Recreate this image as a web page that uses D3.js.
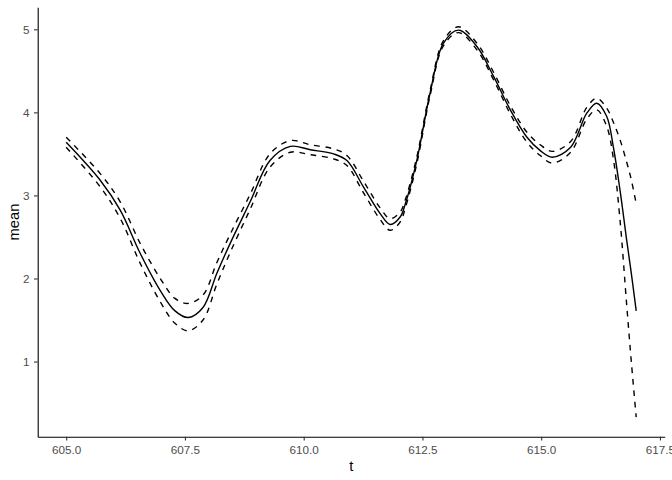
<!DOCTYPE html>
<html>
<head>
<meta charset="utf-8">
<script src="https://cdn.jsdelivr.net/npm/d3@7/dist/d3.min.js"></script>
<style>
  html, body { margin: 0; padding: 0; background: #fff; }
  svg { display: block; font-family: "Liberation Sans", Arial, Helvetica, sans-serif; }
</style>
</head>
<body>
<svg id="chart" width="672" height="480"></svg>
<script>
// ---- data ----
const tValues = [605.00, 605.72, 606.14, 606.56, 606.98, 607.29, 607.57, 607.88, 608.17, 608.45,
                 608.87, 609.29, 609.72, 610.14, 610.63, 610.91, 611.26, 611.61, 611.82, 612.03,
                 612.14, 612.38, 612.66, 612.94, 613.26, 613.65, 614.00, 614.35, 614.70, 614.98,
                 615.23, 615.62, 615.96, 616.17, 616.38, 616.52, 616.66, 616.80, 616.90, 617.00];
const meanValues = [3.64, 3.18, 2.82, 2.30, 1.855, 1.61, 1.53, 1.65, 2.06, 2.42,
                    2.92, 3.42, 3.59, 3.55, 3.50, 3.42, 3.10, 2.78, 2.65, 2.74,
                    2.90, 3.42, 4.23, 4.83, 4.99, 4.79, 4.43, 4.03, 3.70, 3.54,
                    3.46, 3.58, 3.99, 4.11, 3.95, 3.58, 3.06, 2.46, 2.05, 1.61];
const lowerValues = [3.58, 3.10, 2.72, 2.18, 1.72, 1.46, 1.37, 1.50, 1.93, 2.31,
                     2.83, 3.34, 3.52, 3.49, 3.44, 3.36, 3.03, 2.71, 2.58, 2.68,
                     2.85, 3.38, 4.20, 4.80, 4.96, 4.75, 4.39, 3.98, 3.64, 3.48,
                     3.39, 3.52, 3.92, 4.03, 3.83, 3.44, 2.70, 1.68, 0.98, 0.33];
const upperValues = [3.70, 3.26, 2.92, 2.42, 2.00, 1.76, 1.70, 1.80, 2.19, 2.53,
                     3.01, 3.50, 3.66, 3.61, 3.56, 3.48, 3.17, 2.85, 2.72, 2.80,
                     2.95, 3.46, 4.26, 4.86, 5.03, 4.83, 4.48, 4.08, 3.76, 3.61,
                     3.53, 3.65, 4.06, 4.17, 4.05, 3.88, 3.67, 3.40, 3.18, 2.90];
const xTickValues = [605.0, 607.5, 610.0, 612.5, 615.0, 617.5];
const yTickValues = [1, 2, 3, 4, 5];
const xTitle = "t";
const yTitle = "mean";

// ---- layout ----
const W = 672, H = 480;
const panel = { left: 37.7, right: 664.7, top: 7.3, bottom: 436.7 };

const svg = d3.select("#chart");

// ggplot-like 5% expansion
const xExt = d3.extent(tValues);
const xPad = (xExt[1] - xExt[0]) * 0.05;
const allY = lowerValues.concat(upperValues, meanValues);
const yExt = d3.extent(allY);
const yPad = (yExt[1] - yExt[0]) * 0.05;

const x = d3.scaleLinear().domain([xExt[0] - xPad, xExt[1] + xPad]).range([panel.left, panel.right]);
const y = d3.scaleLinear().domain([yExt[0] - yPad, yExt[1] + yPad]).range([panel.bottom, panel.top]);

const rows = tValues.map((t, i) => ({ t, mean: meanValues[i], lo: lowerValues[i], hi: upperValues[i] }));

const lineOf = key => d3.line().x(d => x(d.t)).y(d => y(d[key])).curve(d3.curveCatmullRom.alpha(0.5));

const g = svg.append("g");

g.append("path").datum(rows)
  .attr("d", lineOf("hi"))
  .attr("fill", "none").attr("stroke", "#000").attr("stroke-width", 1.4)
  .attr("stroke-dasharray", "5.7,5.7");
g.append("path").datum(rows)
  .attr("d", lineOf("lo"))
  .attr("fill", "none").attr("stroke", "#000").attr("stroke-width", 1.4)
  .attr("stroke-dasharray", "5.7,5.7");
g.append("path").datum(rows)
  .attr("d", lineOf("mean"))
  .attr("fill", "none").attr("stroke", "#000").attr("stroke-width", 1.4);

// ---- axes ----
const xAxis = d3.axisBottom(x).tickValues(xTickValues).tickFormat(d3.format(".1f"))
  .tickSizeInner(3.7).tickSizeOuter(0).tickPadding(5.5);
const yAxis = d3.axisLeft(y).tickValues(yTickValues).tickFormat(d3.format("d"))
  .tickSizeInner(3.7).tickSizeOuter(0).tickPadding(4.5);

const gx = svg.append("g").attr("transform", `translate(0,${panel.bottom})`).call(xAxis);
const gy = svg.append("g").attr("transform", `translate(${panel.left},0)`).call(yAxis);

[gx, gy].forEach(a => {
  a.select(".domain").attr("stroke", "#000").attr("stroke-width", 1.1);
  a.selectAll(".tick line").attr("stroke", "#333").attr("stroke-width", 1.1);
  a.selectAll(".tick text").attr("fill", "#4d4d4d").style("font-size", "11.7px")
    .style("font-family", "'Liberation Sans', Arial, sans-serif");
});

svg.append("text")
  .attr("x", (panel.left + panel.right) / 2).attr("y", 471)
  .attr("text-anchor", "middle").attr("fill", "#000")
  .style("font-size", "14.7px").text(xTitle);

svg.append("text")
  .attr("transform", `translate(18.5,${(panel.top + panel.bottom) / 2}) rotate(-90)`)
  .attr("text-anchor", "middle").attr("fill", "#000")
  .style("font-size", "14.7px").text(yTitle);
</script>
</body>
</html>
